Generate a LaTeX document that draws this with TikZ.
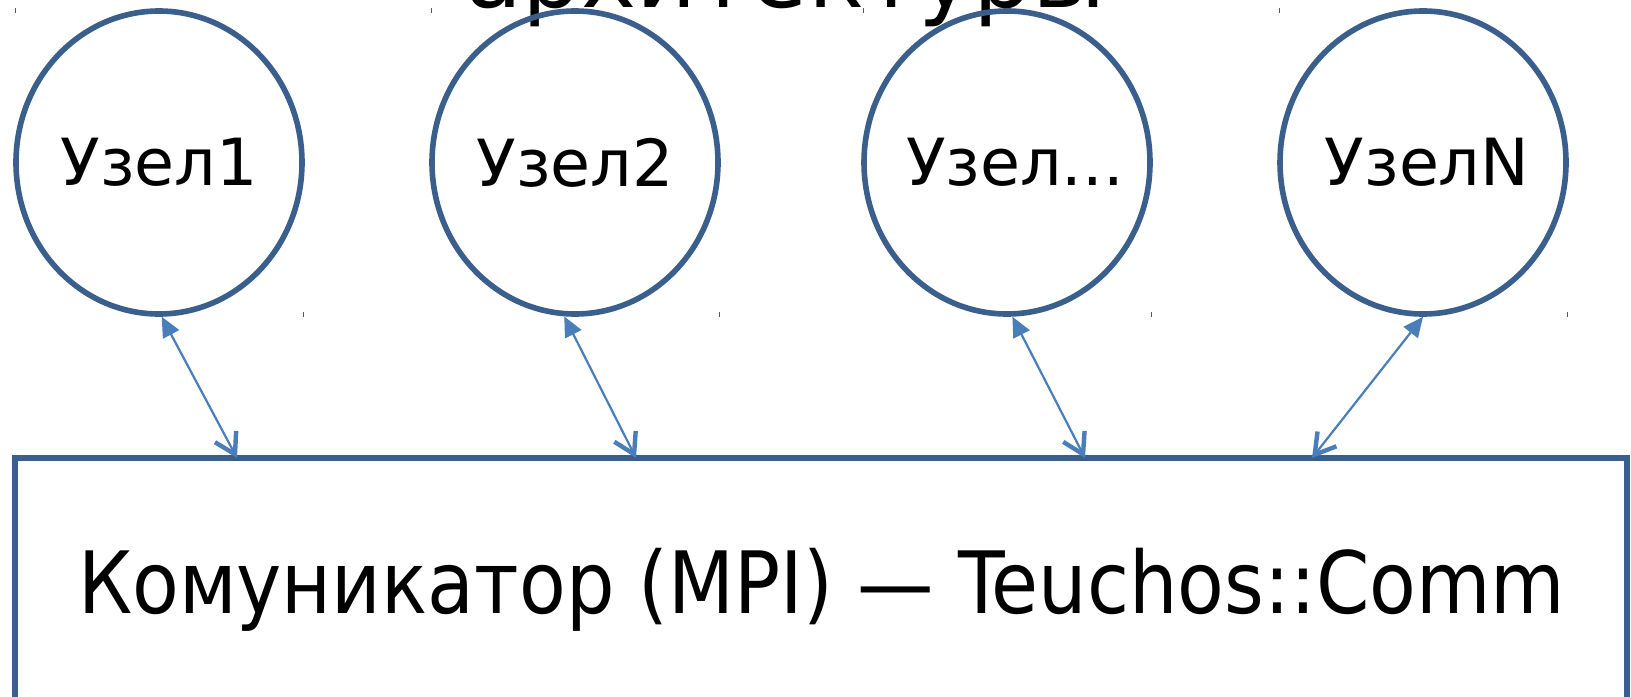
\documentclass[tikz,border=0pt]{standalone}
\usepackage{fontspec}
\setmainfont{DejaVu Sans}
\usepackage{graphicx}
\usetikzlibrary{arrows.meta,shapes.geometric,calc}
\definecolor{nodeblue}{HTML}{3A5F8D}
\definecolor{arrowblue}{HTML}{4A7EBB}
\tikzset{
  nodeell/.style={ellipse, draw=nodeblue, line width=2.8pt, fill=none, inner sep=0pt,
    minimum width=143pt, minimum height=151.5pt, font=\fontsize{32.5pt}{40pt}\selectfont},
  commbox/.style={rectangle, draw=nodeblue, line width=2.8pt, inner sep=0pt,
    minimum width=806pt, minimum height=180pt},
  conn/.style={draw=arrowblue, line width=1.1pt,
    {Triangle[length=10pt,width=9pt]}-{Straight Barb[length=10pt,width=12pt,line width=2.2pt]}},
  tickmark/.style={draw=nodeblue, line width=0.5pt}
}
\begin{document}
\begin{tikzpicture}[x=0.5pt,y=-0.5pt]
\useasboundingbox (0,0) rectangle (1631,696);
\clip (0,0) rectangle (1631,696);
\fill[white] (0,0) rectangle (1631,696);
% title (cut off)
\node[anchor=base, inner sep=0pt, font=\fontsize{46.5pt}{56pt}\selectfont] (title) at (785.5,8) {архитектуры};
% bounding ticks
\foreach \a/\b in {15/303, 431/719, 863/1151, 1279/1567}{
  \draw[tickmark] (\a,8) -- (\a,13);
  \draw[tickmark] (\b,312) -- (\b,317);
}
% nodes
\node[nodeell] (n1) at (159,162.5) {\makebox[0pt]{Узел1}};
\node[nodeell] (n2) at (575,162.5) {\makebox[0pt]{Узел2}};
\node[nodeell] (n3) at (1007,162.5) {\makebox[0pt]{\hspace{8pt}Узел...}};
\node[nodeell] (n4) at (1423,162.5) {\makebox[0pt]{\hspace{4pt}УзелN}};
% communicator box
\node[commbox] (comm) at (821,638) {};
\node[anchor=base, inner sep=0pt, font=\fontsize{43pt}{52pt}\selectfont] (commtext) at (821.5,613)
  {\resizebox{743.5pt}{\height}{Комуникатор (MPI) — Teuchos::Comm}};
% connector ends on box top
\coordinate (b1) at (237,458);
\coordinate (b2) at (636,458);
\coordinate (b3) at (1085,458);
\coordinate (b4) at (1312,458);
\draw[conn] (n1.-89.6) -- (b1);
\draw[conn] (n2.-94.5) -- (b2);
\draw[conn] (n3.-88.9) -- (b3);
\draw[conn] (n4.-90.8) -- (b4);
\end{tikzpicture}
\end{document}
